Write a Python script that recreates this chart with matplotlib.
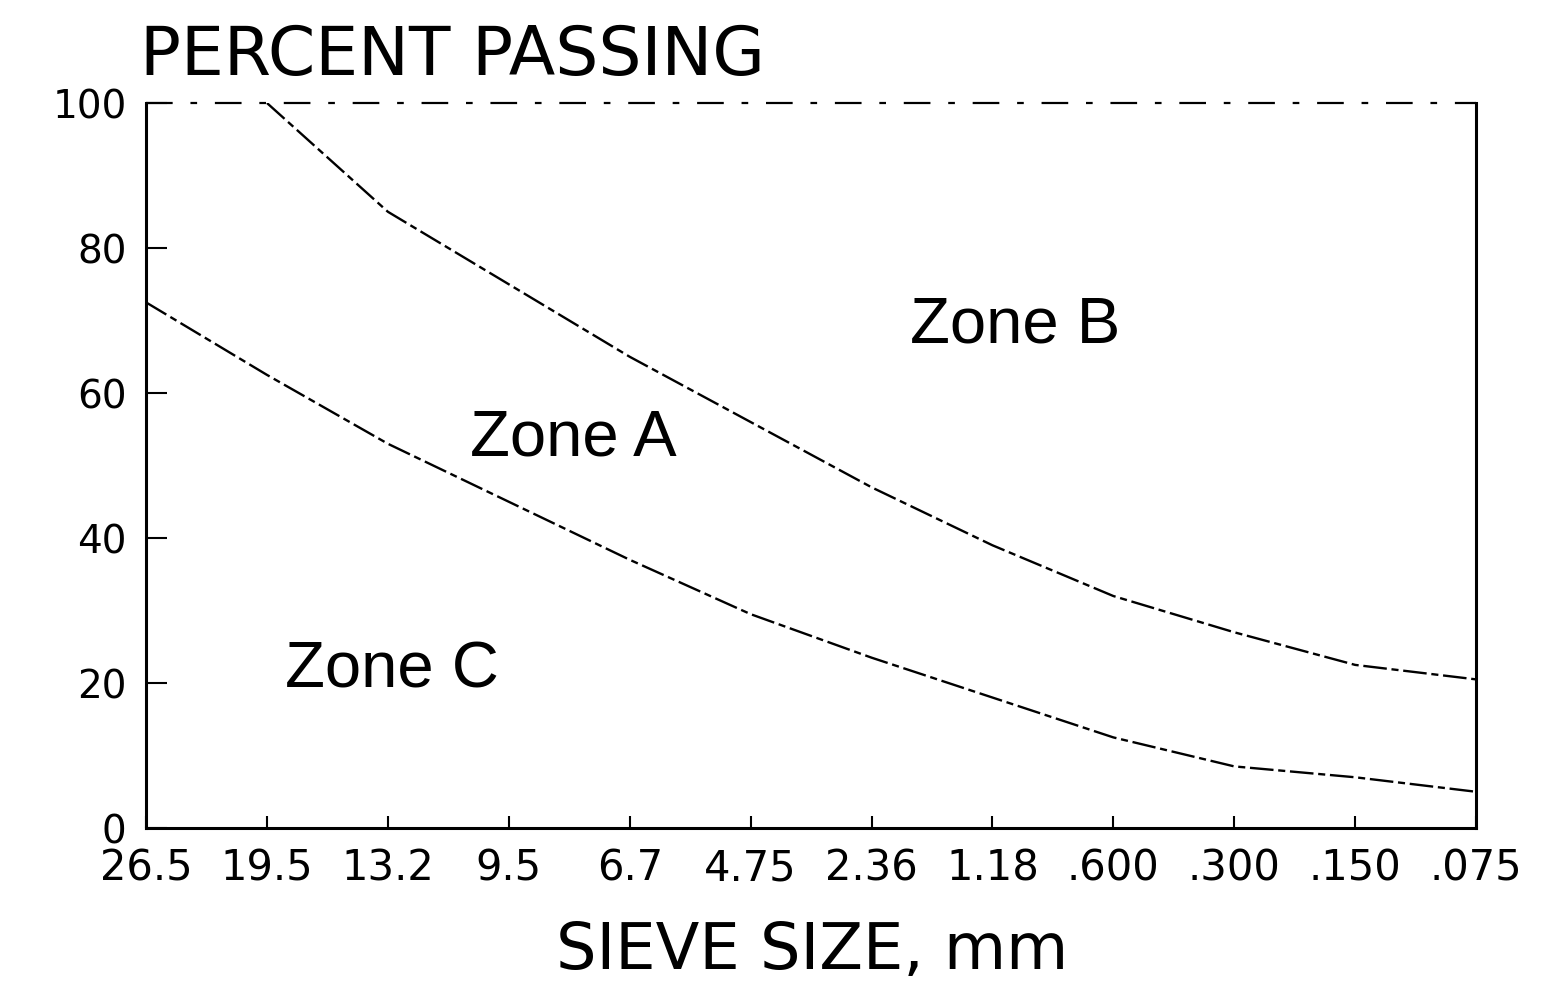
import matplotlib
matplotlib.use("Agg")
import matplotlib.pyplot as plt
import numpy as np

# sieve sizes (mm), plotted as equally spaced categories
sieve_labels = ["26.5", "19.5", "13.2", "9.5", "6.7", "4.75", "2.36",
                "1.18", ".600", ".300", ".150", ".075"]

# boundary between Zone A and Zone B (starts at 19.5 mm)
upper_pass = [np.nan, 100, 85, 75, 65, 56, 47, 39, 32, 27, 22.5, 20.5]
# boundary between Zone A and Zone C
lower_pass = [72.5, 62.5, 53, 45, 37, 29.5, 23.5, 18, 12.5, 8.5, 7, 5]

y_ticks = [0, 20, 40, 60, 80, 100]

zones = [("Zone B", 6.32, 67), ("Zone A", 2.68, 51.4), ("Zone C", 1.15, 19.4)]

zone_font = ["Liberation Sans", "DejaVu Sans"]

fig = plt.figure(figsize=(15.44, 9.82), dpi=100)
ax = fig.add_axes([0.0946, 0.1568, 0.8614, 0.7383])

x = np.arange(len(sieve_labels))
curve_style = dict(color="black", linewidth=1.7, linestyle=(0, (10, 2, 3, 2)))
ax.plot(x, upper_pass, **curve_style)
ax.plot(x, lower_pass, **curve_style)

ax.set_xlim(0, len(sieve_labels) - 1)
ax.set_ylim(0, 100)

# spines: top one drawn as a broken dash-dot line
ax.spines["top"].set_visible(False)
ax.axhline(100, color="black", linewidth=1.6, linestyle=(0, (12, 8, 3, 8)),
           clip_on=False)
for side in ["left", "right", "bottom"]:
    ax.spines[side].set_linewidth(2.2)

ax.set_xticks(x)
ax.set_xticklabels(sieve_labels)
ax.set_yticks(y_ticks)
ax.set_yticklabels([str(v) for v in y_ticks])

ax.tick_params(axis="y", direction="in", length=15, width=1.5, pad=14,
               labelsize=28)
ax.tick_params(axis="x", direction="in", length=9, width=1.5, pad=14,
               labelsize=30)
for lab in ax.get_xticklabels() + ax.get_yticklabels():
    lab.set_family("DejaVu Sans")

for name, zx, zy in zones:
    ax.text(zx, zy, name, fontsize=47, family=zone_font, ha="left",
            va="baseline")

fig.text(0.0907, 0.9236, "PERCENT PASSING", fontsize=49, family="DejaVu Sans",
         ha="left", va="baseline")
fig.text(0.526, 0.013, "SIEVE SIZE, mm", fontsize=46, family="DejaVu Sans",
         ha="center", va="baseline")

fig.savefig("out.png", dpi=100)
